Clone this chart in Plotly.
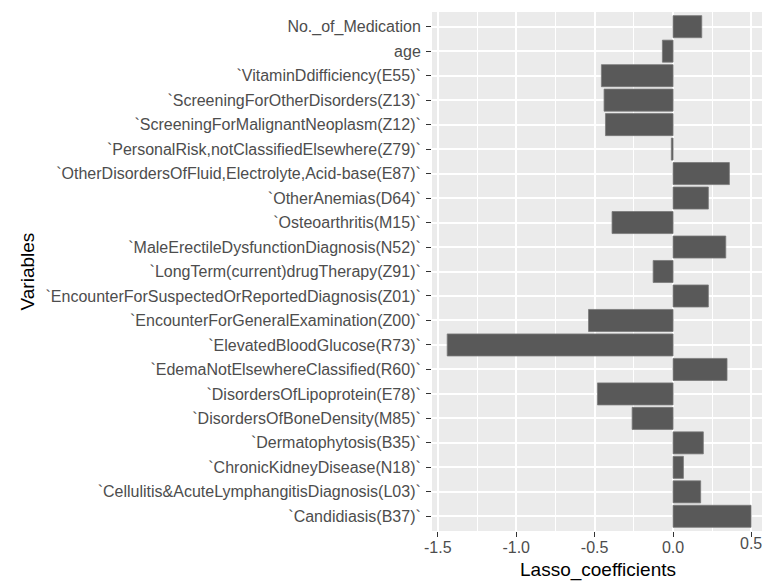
import plotly.graph_objects as go

# Categories listed bottom -> top (ggplot alphabetical order)
variables = [
    "`Candidiasis(B37)`",
    "`Cellulitis&AcuteLymphangitisDiagnosis(L03)`",
    "`ChronicKidneyDisease(N18)`",
    "`Dermatophytosis(B35)`",
    "`DisordersOfBoneDensity(M85)`",
    "`DisordersOfLipoprotein(E78)`",
    "`EdemaNotElsewhereClassified(R60)`",
    "`ElevatedBloodGlucose(R73)`",
    "`EncounterForGeneralExamination(Z00)`",
    "`EncounterForSuspectedOrReportedDiagnosis(Z01)`",
    "`LongTerm(current)drugTherapy(Z91)`",
    "`MaleErectileDysfunctionDiagnosis(N52)`",
    "`Osteoarthritis(M15)`",
    "`OtherAnemias(D64)`",
    "`OtherDisordersOfFluid,Electrolyte,Acid-base(E87)`",
    "`PersonalRisk,notClassifiedElsewhere(Z79)`",
    "`ScreeningForMalignantNeoplasm(Z12)`",
    "`ScreeningForOtherDisorders(Z13)`",
    "`VitaminDdifficiency(E55)`",
    "age",
    "No._of_Medication",
]
coefficients = [
    0.497, 0.176, 0.066, 0.193, -0.261, -0.482, 0.344, -1.44, -0.539, 0.225,
    -0.127, 0.336, -0.389, 0.225, 0.359, -0.011, -0.431, -0.44, -0.457, -0.068,
    0.183,
]
x_tickvals = [-1.5, -1.0, -0.5, 0.0, 0.5]
x_ticktext = ["-1.5", "-1.0", "-0.5", "0.0", "0.5"]
x_minor = [-1.25, -0.75, -0.25, 0.25]

W, H = 762, 583
L, R, T, B = 432, 0, 12, 52

fig = go.Figure(
    go.Bar(
        x=coefficients,
        y=variables,
        orientation="h",
        width=0.9,
        marker=dict(color="#595959", line=dict(color="#7a7a7a", width=0.8)),
    )
)

font = "Liberation Sans, Arial, sans-serif"
fig.update_layout(
    width=W,
    height=H,
    margin=dict(l=L, r=R, t=T, b=B, autoexpand=False),
    paper_bgcolor="white",
    plot_bgcolor="#EBEBEB",
    showlegend=False,
    font=dict(family=font, color="#4D4D4D"),
    bargap=0.1,
)
# The last tick label overflows the right edge (as in the reference); plotly
# would hide it, so it is drawn as an annotation at its data position.
shown_ticktext = x_ticktext[:-1] + [""]
fig.update_xaxes(
    range=[-1.537, 0.567],
    tickvals=x_tickvals,
    ticktext=shown_ticktext,
    showgrid=True,
    gridcolor="white",
    gridwidth=1.6,
    zeroline=False,
    ticks="outside",
    ticklen=5,
    tickwidth=1.2,
    tickcolor="#333333",
    tickfont=dict(size=16, color="#4D4D4D", family=font),
    ticklabelstandoff=-3,
    minor=dict(tickvals=x_minor, showgrid=True, gridcolor="white", gridwidth=0.8, ticks=""),
    showline=False,
    automargin=False,
)
fig.update_yaxes(
    type="category",
    categoryorder="array",
    categoryarray=variables,
    range=[-0.6, 20.6],
    showgrid=True,
    gridcolor="white",
    gridwidth=1.6,
    zeroline=False,
    ticks="outside",
    ticklen=5,
    tickwidth=1.2,
    tickcolor="#333333",
    tickfont=dict(size=16, color="#4D4D4D", family=font),
    ticklabelstandoff=2,
    automargin=False,
    showline=False,
)
plot_w = W - L - R
plot_h = H - T - B
fig.add_annotation(
    text=x_ticktext[-1],
    xref="x", yref="paper",
    x=x_tickvals[-1], y=-(543 - (T + plot_h)) / plot_h,
    xanchor="center", yanchor="middle",
    showarrow=False,
    font=dict(size=16, color="#4D4D4D", family=font),
)
fig.add_annotation(
    text="Variables",
    xref="paper", yref="paper",
    x=(27 - L) / plot_w, y=0.5,
    xanchor="center", yanchor="middle",
    textangle=-90,
    showarrow=False,
    font=dict(size=19, color="black", family=font),
)
fig.add_annotation(
    text="Lasso_coefficients",
    xref="paper", yref="paper",
    x=(598 - L) / plot_w, y=-(570 - (T + plot_h)) / plot_h,
    xanchor="center", yanchor="middle",
    showarrow=False,
    font=dict(size=19, color="black", family=font),
)

fig.write_html(
    "out.html",
    config={"displayModeBar": False},
    post_script="document.body.style.margin='0';document.body.style.padding='0';",
)
